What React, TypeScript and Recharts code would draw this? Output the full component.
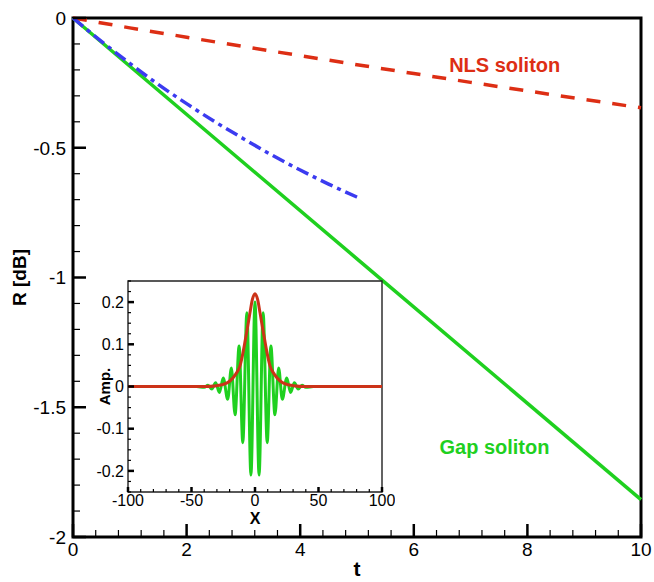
import React from "react";
import { Line, LineChart, ReferenceArea, ReferenceDot, XAxis, YAxis } from "recharts";

const FONT = "'Liberation Sans', Arial, Helvetica, sans-serif";

// main plot: R [dB] against t
const gapT = [0, 5, 10];
const gapR = [0, -0.928, -1.856];

const nlsT = [0, 1, 2, 3, 4, 5, 6, 7, 8, 9, 10];
const nlsR = [0, -0.038, -0.074, -0.11, -0.145, -0.18, -0.214, -0.248, -0.281, -0.314, -0.346];

const blueT = [0, 0.5, 1, 1.5, 2, 2.5, 3, 3.5, 4, 4.5, 5];
const blueR = [0, -0.09, -0.175, -0.256, -0.33, -0.4, -0.465, -0.528, -0.586, -0.64, -0.69];

const tMajor = [0, 2, 4, 6, 8, 10];
const rMajor = [0, -0.5, -1, -1.5, -2];

// inset: amplitude against x
const waveX = [-100, -46, -40, -37, -34, -31, -28, -25, -21.5, -18.6, -15.7, -12.5, -9.6, -6.4, -3.2, 0,
  3.2, 6.4, 9.6, 12.5, 15.7, 18.6, 21.5, 25, 28, 31, 34, 37, 40, 46, 100];
const waveA = [0, 0, -0.002, 0.003, -0.006, 0.009, -0.014, 0.02, -0.03, 0.044, -0.067, 0.096, -0.133, 0.175, -0.21, 0.2,
  -0.21, 0.175, -0.133, 0.096, -0.067, 0.044, -0.03, 0.02, -0.014, 0.009, -0.006, 0.003, -0.002, 0, 0];

const envX = [-100, -40, -30, -25, -20, -15, -12, -10, -8, -6, -4, -2, 0, 2, 4, 6, 8, 10, 12, 15, 20, 25, 30, 40, 100];
const envA = [0, 0, 0.002, 0.005, 0.0125, 0.03, 0.047, 0.072, 0.104, 0.138, 0.174, 0.207, 0.22,
  0.207, 0.174, 0.138, 0.104, 0.072, 0.047, 0.03, 0.0125, 0.005, 0.002, 0, 0];

const xMajor = [-100, -50, 0, 50, 100];
const aMajor = [-0.2, -0.1, 0, 0.1, 0.2];

const zip = (xs: number[], ys: number[]) => xs.map((x, i) => ({ x, y: ys[i] }));

const gapData = zip(gapT, gapR);
const nlsData = zip(nlsT, nlsR);
const blueData = zip(blueT, blueR);
const waveData = zip(waveX, waveA);
const envData = zip(envX, envA);

function withMinor(min: number, max: number, step: number) {
  const n = Math.round((max - min) / step);
  const out: number[] = [];
  for (let i = 0; i <= n; i++) out.push(+(min + i * step).toFixed(4));
  return out;
}

const isIn = (list: number[], v: number) => list.some((m) => Math.abs(m - v) < 1e-6);

function bottomTick(majors: number[], big: number, small: number, size: number, gap: number) {
  return (props: any) => {
    const { x, y, payload } = props;
    const major = isIn(majors, payload.value);
    return (
      <g>
        <line x1={x} y1={y} x2={x} y2={y - (major ? big : small)} stroke="#000" strokeWidth={major ? 2.5 : 1.2} />
        {major && (
          <text x={x} y={y + gap} textAnchor="middle" dy="0.72em" fontSize={size} fontFamily={FONT} fill="#000">
            {payload.value}
          </text>
        )}
      </g>
    );
  };
}

function leftTick(majors: number[], big: number, small: number, size: number, gap: number) {
  return (props: any) => {
    const { x, y, payload } = props;
    const major = isIn(majors, payload.value);
    return (
      <g>
        <line x1={x} y1={y} x2={x + (major ? big : small)} y2={y} stroke="#000" strokeWidth={major ? 2.5 : 1.2} />
        {major && (
          <text x={x - gap} y={y} textAnchor="end" dy="0.36em" fontSize={size} fontFamily={FONT} fill="#000">
            {payload.value}
          </text>
        )}
      </g>
    );
  };
}

function Inset() {
  return (
    <div style={{ position: "absolute", left: 85, top: 270 }}>
      <LineChart width={310} height={265} margin={{ top: 11, right: 13, left: 33, bottom: 33 }}>
        <XAxis
          dataKey="x"
          type="number"
          domain={[-100, 100]}
          ticks={withMinor(-100, 100, 10)}
          interval={0}
          height={10}
          axisLine={false}
          tickLine={false}
          tickSize={0}
          tickMargin={0}
          tick={bottomTick(xMajor, 5, 3, 16, 2)}
          label={(p: any) => (
            <text
              x={p.viewBox.x + p.viewBox.width / 2}
              y={p.viewBox.y + 20}
              textAnchor="middle"
              dy="0.72em"
              fontSize={16}
              fontWeight="bold"
              fontFamily={FONT}
            >
              X
            </text>
          )}
        />
        <YAxis
          type="number"
          domain={[-0.25, 0.25]}
          ticks={withMinor(-0.25, 0.25, 0.025)}
          interval={0}
          width={10}
          axisLine={false}
          tickLine={false}
          tickSize={0}
          tickMargin={0}
          tick={leftTick(aMajor, 6, 3, 16, 4)}
          label={(p: any) => {
            const cx = p.viewBox.x + p.viewBox.width - 23;
            const cy = p.viewBox.y + p.viewBox.height / 2;
            return (
              <text
                x={cx}
                y={cy}
                transform={`rotate(-90 ${cx} ${cy})`}
                textAnchor="middle"
                dy="0.36em"
                fontSize={15}
                fontWeight="bold"
                fontFamily={FONT}
              >
                Amp.
              </text>
            );
          }}
        />
        <ReferenceArea x1={-100} x2={100} y1={-0.25} y2={0.25} fill="#fff" fillOpacity={1} stroke="#222" strokeWidth={1.4} />
        <Line data={waveData} dataKey="y" type="monotone" stroke="#1fd01f" strokeWidth={3} dot={false} isAnimationActive={false} />
        <Line data={envData} dataKey="y" type="monotone" stroke="#cc3318" strokeWidth={3} dot={false} isAnimationActive={false} />
      </LineChart>
    </div>
  );
}

export default function App() {
  return (
    <div style={{ position: "absolute", left: 0, top: 0, width: 654, height: 582, background: "#fff" }}>
      <LineChart width={654} height={582} margin={{ top: 18, right: 13, left: 63, bottom: 35 }}>
        <XAxis
          dataKey="x"
          type="number"
          domain={[0, 10]}
          ticks={withMinor(0, 10, 0.4)}
          interval={0}
          height={10}
          axisLine={false}
          tickLine={false}
          tickSize={0}
          tickMargin={0}
          tick={bottomTick(tMajor, 13, 7, 19, 5)}
          label={(p: any) => (
            <text
              x={p.viewBox.x + p.viewBox.width / 2}
              y={p.viewBox.y + 24}
              textAnchor="middle"
              dy="0.72em"
              fontSize={21}
              fontWeight="bold"
              fontFamily={FONT}
            >
              t
            </text>
          )}
        />
        <YAxis
          type="number"
          domain={[-2, 0]}
          ticks={withMinor(-2, 0, 0.1)}
          interval={0}
          width={10}
          axisLine={false}
          tickLine={false}
          tickSize={0}
          tickMargin={0}
          tick={leftTick(rMajor, 13, 7, 19, 7)}
          label={(p: any) => {
            const cx = p.viewBox.x + p.viewBox.width - 54;
            const cy = p.viewBox.y + p.viewBox.height / 2;
            return (
              <text
                x={cx}
                y={cy}
                transform={`rotate(-90 ${cx} ${cy})`}
                textAnchor="middle"
                dy="0.36em"
                fontSize={19}
                fontWeight="bold"
                fontFamily={FONT}
              >
                R [dB]
              </text>
            );
          }}
        />
        <ReferenceArea x1={0} x2={10} y1={-2} y2={0} fill="none" stroke="#000" strokeWidth={3} />
        <Line data={gapData} dataKey="y" type="linear" stroke="#1fd01f" strokeWidth={3.5} dot={false} isAnimationActive={false} />
        <Line data={nlsData} dataKey="y" type="linear" stroke="#dd2e14" strokeWidth={3.5} strokeDasharray="14 12" dot={false} isAnimationActive={false} />
        <Line data={blueData} dataKey="y" type="monotone" stroke="#3b3bf0" strokeWidth={3.5} strokeDasharray="13 5 4 5" dot={false} isAnimationActive={false} />
        <ReferenceDot
          x={7.6}
          y={-0.179}
          r={1}
          fill="none"
          stroke="none"
          label={{ value: "NLS soliton", position: "center", fill: "#dd2e14", fontSize: 20, fontWeight: "bold", fontFamily: FONT }}
        />
        <ReferenceDot
          x={7.42}
          y={-1.654}
          r={1}
          fill="none"
          stroke="none"
          label={{ value: "Gap soliton", position: "center", fill: "#1fd01f", fontSize: 20, fontWeight: "bold", fontFamily: FONT }}
        />
      </LineChart>
      <Inset />
    </div>
  );
}
